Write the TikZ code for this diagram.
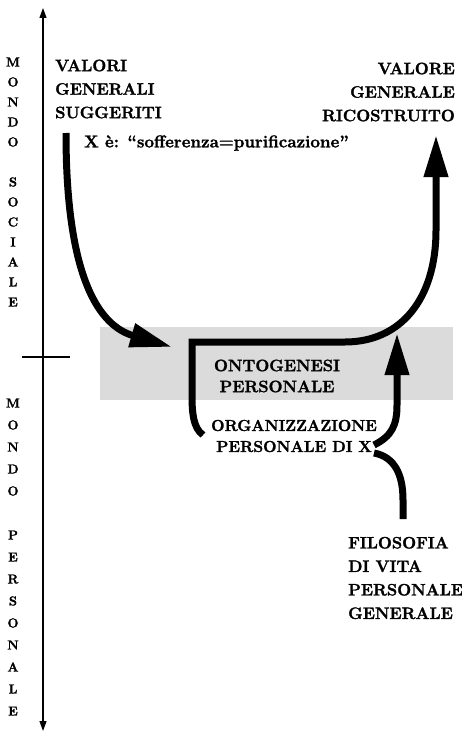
\documentclass[tikz,border=0pt]{standalone}
\usepackage{fontspec}
\setmainfont{Latin Modern Roman}[BoldFeatures={FakeBold=1.6}]
\usetikzlibrary{arrows.meta}
\tikzset{
  caps/.style={font=\bfseries\fontsize{16.5}{23.5}\selectfont, inner sep=0pt},
  vert/.style={align=center, inner sep=0pt},
  flow/.style={line width=7pt, line join=miter, -{Triangle[length=42pt,width=23pt]}},
  strand/.style={line width=7pt},
  axis/.style={line width=1.2pt}
}
\begin{document}
\begin{tikzpicture}[x=1pt,y=-1pt]
  \useasboundingbox (0,0) rectangle (462,733);
  \fill[black!14] (100,327) rectangle (453,400);
  \draw[axis, {Triangle[length=10pt,width=7pt]}-{Triangle[length=10pt,width=7pt]}] (43,731) -- (43,8);
  \draw[axis] (22,357) -- (70,357);

  \node[vert, font=\bfseries\fontsize{13}{20}\selectfont] (sociale) at (13,182)
    {M\\O\\N\\D\\O\\[20pt]S\\O\\C\\I\\A\\L\\E};
  \node[vert, font=\bfseries\fontsize{13}{22}\selectfont] (personale) at (13,557)
    {M\\O\\N\\D\\O\\[22pt]P\\E\\R\\S\\O\\N\\A\\L\\E};

  \node[caps, align=left, anchor=west] (valori) at (55,89) {VALORI\\GENERALI\\SUGGERITI};
  \node[caps, align=right, anchor=east] (valore) at (455,92) {VALORE\\GENERALE\\RICOSTRUITO};
  \node[caps, font=\bfseries\fontsize{17}{18}\selectfont, anchor=west] (esempio) at (84,143)
    {X è: “sofferenza=purificazione”};
  \node[caps, align=center, font=\bfseries\fontsize{16.5}{21}\selectfont] (onto) at (277,376) {ONTOGENESI\\PERSONALE};
  \node[caps, align=center, font=\bfseries\fontsize{15.8}{21}\selectfont] (org) at (294,436) {ORGANIZZAZIONE\\PERSONALE DI X};
  \node[caps, align=left, anchor=west] (filo) at (348,578) {FILOSOFIA\\DI VITA\\PERSONALE\\GENERALE};

  \coordinate (v0) at (66,133);
  \coordinate (v1) at (172,347);
  \coordinate (u0) at (203,435);
  \coordinate (corner) at (192,342);
  \coordinate (u1) at (436,135);
  \coordinate (o0) at (374,445);
  \coordinate (o1) at (397,333);
  \coordinate (f0) at (374,453);
  \coordinate (f1) at (403,519);

  \draw[flow] (v0) .. controls (66,280) and (100,326) .. (v1);
  \draw[flow] (u0) .. controls (193,428) and (192,412) .. (192,395) -- (corner)
    -- (345,342) .. controls (400,342) and (436,300) .. (436,230) -- (u1);
  \draw[flow] (o0) .. controls (392,436) and (397,425) .. (397,405) -- (o1);
  \draw[strand] (f0) .. controls (395,457) and (403,475) .. (403,500) -- (f1);
\end{tikzpicture}
\end{document}
